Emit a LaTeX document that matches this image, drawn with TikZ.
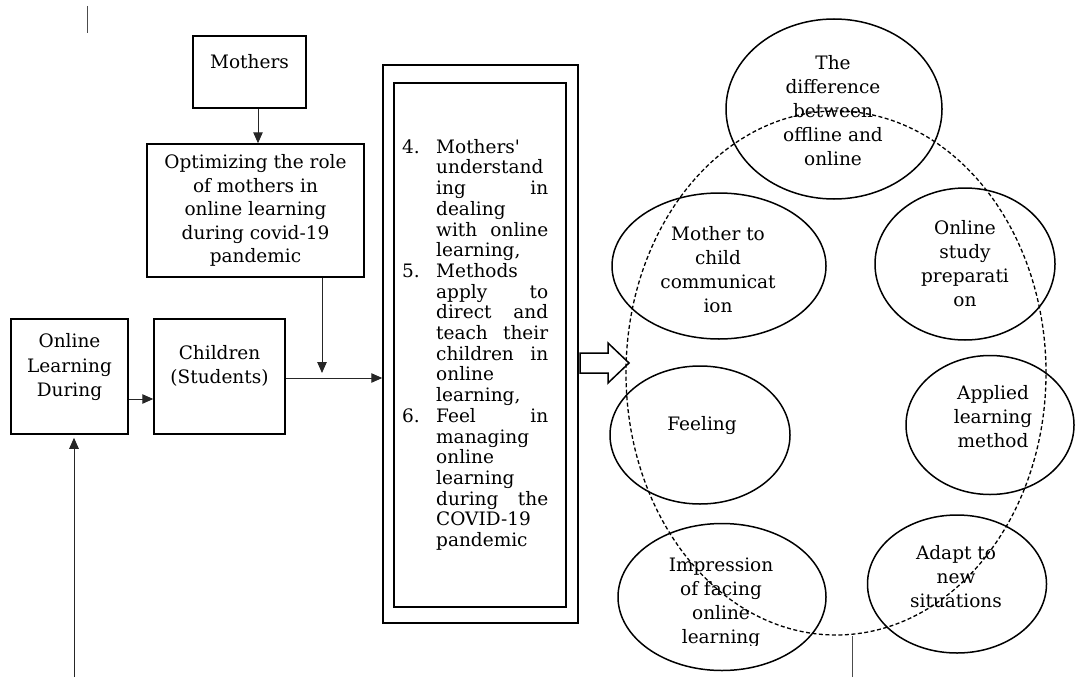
\documentclass[tikz,border=0pt]{standalone}
\usepackage{fontspec}
\setmainfont{DejaVu Serif}
\usetikzlibrary{arrows.meta,shapes.geometric}
\newcommand{\sqmark}{\XeTeXglyph\XeTeXcharglyph"0027\relax}
\newcommand{\lline}[2]{\makebox[34pt][l]{#1}\makebox[112pt][l]{#2}}
\begin{document}
\begin{tikzpicture}[x=1pt,y=-1pt,
  box/.style={draw, line width=1.5pt, inner sep=0pt},
  txt/.style={font=\fontsize{18.5}{23.5}\selectfont, align=center, inner sep=0pt},
  etxt/.style={font=\fontsize{18.5}{24}\selectfont, align=center, inner sep=0pt},
  ell/.style={draw, ellipse, line width=1.5pt, inner sep=0pt},
  conn/.style={line width=1pt, draw=black!85, -{Triangle[length=11pt,width=9.5pt]}},
  thin/.style={line width=1pt, draw=black!70},
]
\useasboundingbox (0,0) rectangle (1075,677);

% boxes
\node[box, minimum width=113pt, minimum height=72pt] (mothers) at (249.5,72) {};
\node[txt, anchor=base] (motherst) at (249.5,68) {Mothers};
\node[box, txt, minimum width=217pt, minimum height=133pt] (opt) at (255.5,210.5)
  {Optimizing the role\\of mothers in\\online learning\\during covid-19\\pandemic};
\node[box, minimum width=117pt, minimum height=115pt] (onl) at (69.5,376.5) {};
\node[txt, font=\fontsize{18.5}{24.5}\selectfont] (onlt) at (69.5,367.5) {Online\\Learning\\During};
\node[box, minimum width=131pt, minimum height=115pt] (child) at (219.5,376.5) {};
\node[txt] (childt) at (219.5,366) {Children\\(Students)};

% list double box
\node[box, minimum width=195pt, minimum height=558pt] (outer) at (480.5,344) {};
\node[box, minimum width=172pt, minimum height=524pt] (inner) at (480,345) {};
\node[anchor=north west, inner sep=0pt, font=\fontsize{18.5}{20.7}\selectfont, align=left] (listt) at (402,139) {%
\lline{4.}{Mothers\sqmark}\\
\lline{}{understand}\\
\lline{}{ing\hfill in}\\
\lline{}{dealing}\\
\lline{}{with\hfill online}\\
\lline{}{learning,}\\
\lline{5.}{Methods}\\
\lline{}{apply\hfill to}\\
\lline{}{direct\hfill and}\\
\lline{}{teach\hfill their}\\
\lline{}{children\hfill in}\\
\lline{}{online}\\
\lline{}{learning,}\\
\lline{6.}{Feel\hfill in}\\
\lline{}{managing}\\
\lline{}{online}\\
\lline{}{learning}\\
\lline{}{during\hfill the}\\
\lline{}{COVID-19}\\
\lline{}{pandemic}};

% connectors
\coordinate (j) at (322,378);
\coordinate (b1) at (74,677);
\draw[conn] (mothers.south -| 258,0) -- (opt.north -| 258,0);
\draw[conn] (opt.south -| j) -- ([yshift=5pt]j);
\draw[conn] (child.east |- j) -- (outer.west |- j);
\draw[conn] (onl.east |- 0,399) -- (child.west |- 0,399);
\draw[conn, shorten >=3pt] (b1) -- (onl.south -| b1);

% small marks
\draw[thin] (87,6) -- (87,33);

% block arrow
\draw[line width=1.5pt] (580,353) -- (608,353) -- (608,343) -- (629,363) -- (608,383) -- (608,373) -- (580,373) -- cycle;

% big dashed ellipse
\node[draw, ellipse, dashed, dash pattern=on 4pt off 2.5pt, line width=1.3pt, minimum width=420pt, minimum height=524pt, inner sep=0pt] (big) at (836,373) {};
\coordinate (b2) at (852,677);
\draw[thin] (b2) -- (b2 |- big.south);

% ellipses
\node[ell, minimum width=216pt, minimum height=180pt] (e1) at (834,109) {};
\node[etxt] (e1t) at (833,111) {The\\difference\\between\\offline and\\online};

\node[ell, minimum width=214pt, minimum height=146pt] (e2) at (719,266) {};
\begin{scope}
\clip (600,200) rectangle (840,312.5);
\node[etxt] (e2t) at (718,270) {Mother to\\child\\communicat\\ion};
\end{scope}

\node[ell, minimum width=180pt, minimum height=152pt] (e3) at (965,264) {};
\node[etxt] (e3t) at (965,264) {Online\\study\\preparati\\on};

\node[ell, minimum width=180pt, minimum height=138pt] (e4) at (700,435) {};
\node[etxt, anchor=base] (e4t) at (702,430) {Feeling};

\node[ell, minimum width=168pt, minimum height=139pt] (e5) at (990,425) {};
\node[etxt] (e5t) at (993,416.5) {Applied\\learning\\method};

\node[ell, minimum width=208pt, minimum height=147pt] (e6) at (722,597) {};
\begin{scope}
\clip (600,540) rectangle (840,645);
\node[etxt] (e6t) at (721,602.5) {Impression\\of facing\\online\\learning};
\end{scope}

\node[ell, minimum width=179pt, minimum height=138pt] (e7) at (957,584) {};
\node[etxt] (e7t) at (956,576.5) {Adapt to\\new\\situations};
\end{tikzpicture}
\end{document}
